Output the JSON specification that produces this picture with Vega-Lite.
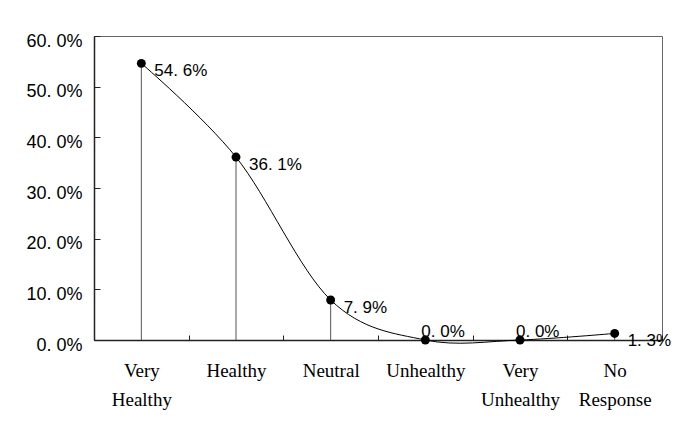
{
  "$schema": "https://vega.github.io/schema/vega-lite/v6.json",
  "width": 568,
  "height": 304,
  "autosize": "none",
  "padding": {"left": 94, "top": 36, "right": 23, "bottom": 90},
  "background": "white",
  "config": {"view": {"stroke": "#666666", "strokeWidth": 1}},
  "data": {"values": [
    {"category": "Very Healthy", "value": 0.546, "label": "54. 6%"},
    {"category": "Healthy", "value": 0.361, "label": "36. 1%"},
    {"category": "Neutral", "value": 0.079, "label": "7. 9%"},
    {"category": "Unhealthy", "value": 0.0, "label": "0. 0%"},
    {"category": "Very Unhealthy", "value": 0.0, "label": "0. 0%"},
    {"category": "No Response", "value": 0.013, "label": "1. 3%"}
  ]},
  "encoding": {
    "x": {
      "field": "category", "type": "nominal", "sort": null,
      "scale": {"type": "band", "paddingInner": 0, "paddingOuter": 0},
      "axis": {
        "title": null, "labelAngle": 0, "tickBand": "extent", "tickSize": -5,
        "labelPadding": 26, "labelFont": "Liberation Serif", "labelFontSize": 19,
        "labelColor": "black", "labelExpr": "split(datum.label, ' ')",
        "labelLineHeight": 29, "labelBaseline": "top", "grid": false,
        "domainColor": "#222222", "domainWidth": 1.5, "tickColor": "#222222"
      }
    },
    "y": {
      "field": "value", "type": "quantitative",
      "scale": {"domain": [0, 0.6], "nice": false},
      "axis": {
        "title": null, "values": [0, 0.1, 0.2, 0.3, 0.4, 0.5, 0.6],
        "labelExpr": "replace(format(datum.value, '.1%'), '.', '. ')",
        "tickSize": -6, "labelPadding": 18, "labelOffset": 5,
        "labelFont": "Liberation Sans", "labelFontSize": 18, "labelColor": "black",
        "grid": false, "domainColor": "#222222", "domainWidth": 1.5, "tickColor": "#222222"
      }
    }
  },
  "layer": [
    {"mark": {"type": "rule", "color": "#555555", "strokeWidth": 1}, "encoding": {"y2": {"datum": 0}}},
    {"mark": {"type": "line", "interpolate": "cardinal", "color": "black", "strokeWidth": 1}, "encoding": {}},
    {"mark": {"type": "point", "filled": true, "color": "black", "size": 80, "opacity": 1}},
    {
      "transform": [{"filter": "datum.value > 0"}],
      "mark": {"type": "text", "align": "left", "baseline": "alphabetic", "dx": 13, "dy": 13, "font": "Liberation Sans", "fontSize": 17, "color": "black"},
      "encoding": {"text": {"field": "label"}}
    },
    {
      "transform": [{"filter": "datum.value == 0"}],
      "mark": {"type": "text", "align": "left", "baseline": "alphabetic", "dx": -4, "dy": -3, "font": "Liberation Sans", "fontSize": 17, "color": "black"},
      "encoding": {"text": {"field": "label"}}
    }
  ]
}
